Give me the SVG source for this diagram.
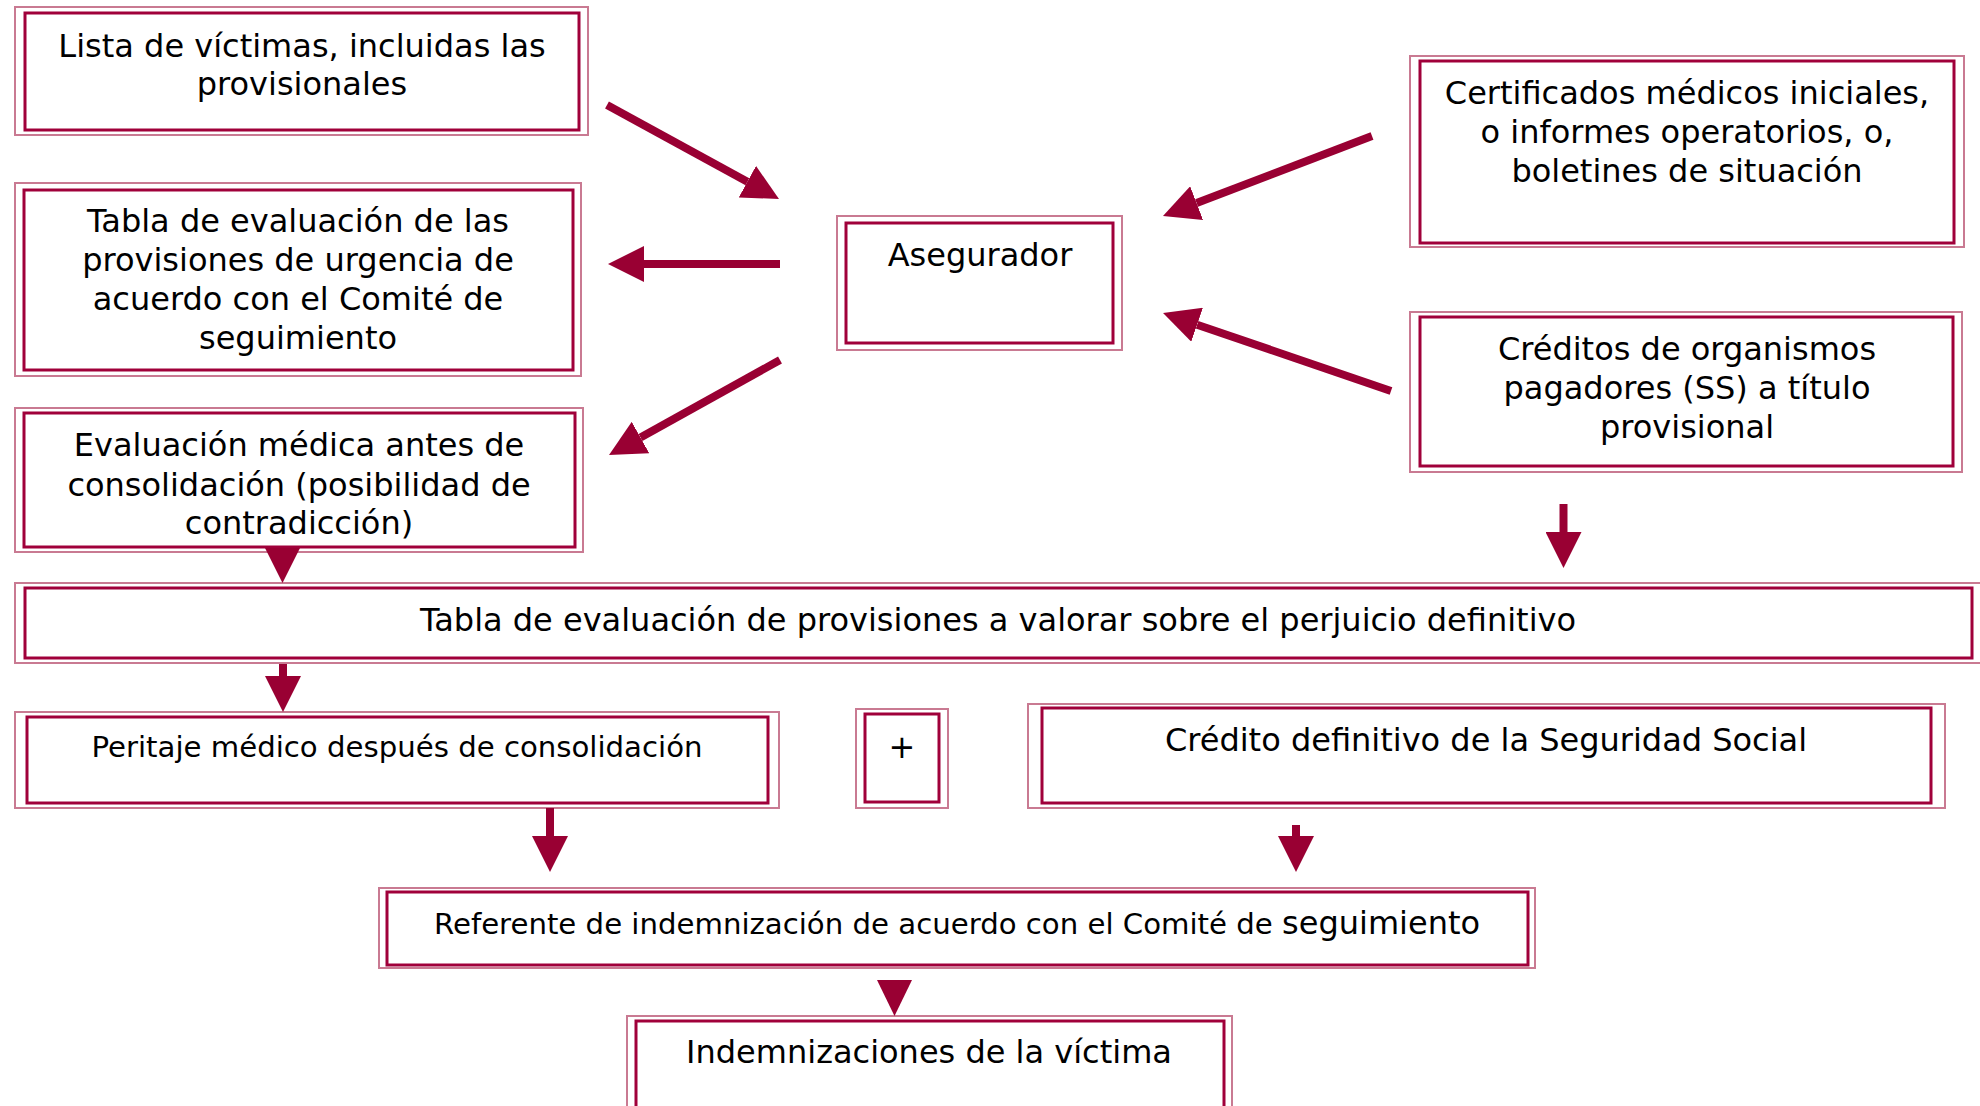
<svg xmlns="http://www.w3.org/2000/svg" width="1980" height="1106" viewBox="0 0 1980 1106">
<style>
  .outer { fill: none; stroke: #c97a92; stroke-width: 2; }
  .inner { fill: #ffffff; stroke: #a0003a; stroke-width: 3; }
  .t { font-family: "DejaVu Sans", Verdana, sans-serif; font-size: 32px; fill: #000000; text-anchor: middle; }
  .sm { font-size: 29.2px; }
  .conn { stroke: #990033; stroke-width: 8; fill: none; marker-end: url(#ah); }
  .head { fill: #990033; stroke: none; }
</style>
<defs>
  <marker id="ah" viewBox="0 0 10 10" refX="0" refY="5" markerWidth="4.5" markerHeight="4.5" markerUnits="strokeWidth" orient="auto">
    <path d="M0,0 L10,5 L0,10 z" fill="#990033"/>
  </marker>
</defs>
<rect width="1980" height="1106" fill="#ffffff"/>

<g id="n-lista">
  <rect class="outer" x="15" y="7" width="573" height="128"/>
  <rect class="inner" x="25" y="13" width="554" height="117"/>
  <text class="t" x="302" y="57">Lista de víctimas, incluidas las</text>
  <text class="t" x="302" y="95">provisionales</text>
</g>

<g id="n-tabla-urgencia">
  <rect class="outer" x="15" y="183" width="566" height="193"/>
  <rect class="inner" x="24" y="190" width="549" height="180"/>
  <text class="t" x="298" y="232">Tabla de evaluación de las</text>
  <text class="t" x="298" y="271">provisiones de urgencia de</text>
  <text class="t" x="298" y="310">acuerdo con el Comité de</text>
  <text class="t" x="298" y="349">seguimiento</text>
</g>

<g id="n-evaluacion">
  <rect class="outer" x="15" y="408" width="568" height="144"/>
  <rect class="inner" x="24" y="413" width="551" height="134"/>
  <text class="t" x="299" y="456">Evaluación médica antes de</text>
  <text class="t" x="299" y="495.5">consolidación (posibilidad de</text>
  <text class="t" x="299" y="534">contradicción)</text>
</g>

<g id="n-asegurador">
  <rect class="outer" x="837" y="216" width="285" height="134"/>
  <rect class="inner" x="846" y="223" width="267" height="120"/>
  <text class="t" x="980" y="266">Asegurador</text>
</g>

<g id="n-certificados">
  <rect class="outer" x="1410" y="56" width="554" height="191"/>
  <rect class="inner" x="1420" y="61" width="534" height="182"/>
  <text class="t" x="1687" y="104">Certificados médicos iniciales,</text>
  <text class="t" x="1687" y="143">o informes operatorios, o,</text>
  <text class="t" x="1687" y="182">boletines de situación</text>
</g>

<g id="n-creditos">
  <rect class="outer" x="1410" y="312" width="552" height="160"/>
  <rect class="inner" x="1420" y="317" width="533" height="149"/>
  <text class="t" x="1687" y="360">Créditos de organismos</text>
  <text class="t" x="1687" y="399">pagadores (SS) a título</text>
  <text class="t" x="1687" y="438">provisional</text>
</g>

<g id="n-tabla-definitivo">
  <rect class="outer" x="15" y="583" width="1970" height="80"/>
  <rect class="inner" x="25" y="588" width="1947" height="70"/>
  <text class="t" x="998" y="631">Tabla de evaluación de provisiones a valorar sobre el perjuicio definitivo</text>
</g>

<g id="n-peritaje">
  <rect class="outer" x="15" y="712" width="764" height="96"/>
  <rect class="inner" x="27" y="717" width="741" height="86"/>
  <text class="t sm" x="397" y="757">Peritaje médico después de consolidación</text>
</g>

<g id="n-plus">
  <rect class="outer" x="856" y="709" width="92" height="99"/>
  <rect class="inner" x="865" y="714" width="74" height="88"/>
  <text class="t" x="902" y="758">+</text>
</g>

<g id="n-credito-definitivo">
  <rect class="outer" x="1028" y="704" width="917" height="104"/>
  <rect class="inner" x="1042" y="708" width="889" height="95"/>
  <text class="t" x="1486" y="751">Crédito definitivo de la Seguridad Social</text>
</g>

<g id="n-referente">
  <rect class="outer" x="379" y="888" width="1156" height="80"/>
  <rect class="inner" x="387" y="892" width="1141" height="73"/>
  <text class="t" x="957" y="934" style="font-size:29.2px">Referente de indemnización de acuerdo con el Comité de <tspan style="font-size:32px">seguimiento</tspan></text>
</g>

<g id="n-indemnizaciones">
  <rect class="outer" x="627" y="1016" width="605" height="100"/>
  <rect class="inner" x="636" y="1021" width="588" height="100"/>
  <text class="t" x="929" y="1063">Indemnizaciones de la víctima</text>
</g>

<g id="connectors">
  <line class="conn" x1="607" y1="105" x2="747.4" y2="181.7"/>
  <line class="conn" x1="780" y1="264" x2="644" y2="264"/>
  <line class="conn" x1="780" y1="360" x2="640.5" y2="437.5"/>
  <line class="conn" x1="1372" y1="136" x2="1196.6" y2="203.1"/>
  <line class="conn" x1="1391" y1="391" x2="1197.1" y2="324.7"/>
  <line class="conn" x1="1563.5" y1="504" x2="1563.5" y2="532"/>
  <line class="conn" x1="283" y1="664" x2="283" y2="676"/>
  <line class="conn" x1="550" y1="808" x2="550" y2="836"/>
  <line class="conn" x1="1296" y1="825" x2="1296" y2="836"/>
  <polygon class="head" points="265,548 300,548 282.5,583"/>
  <polygon class="head" points="877,980 912,980 894.5,1016"/>
</g>
</svg>
